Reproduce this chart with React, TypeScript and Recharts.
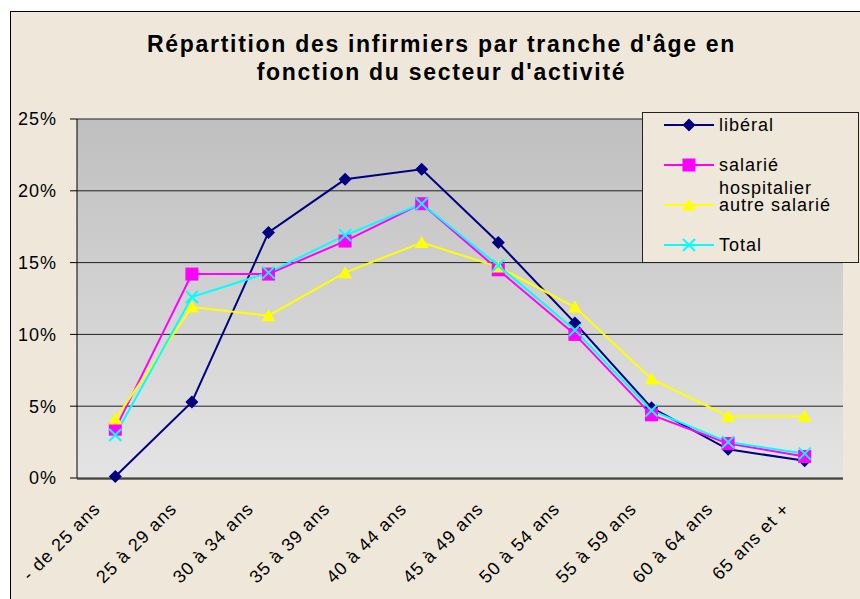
import { LineChart, Line, XAxis, YAxis, CartesianGrid, ReferenceArea } from 'recharts'

const AGES = [
  '- de 25 ans',
  '25 à 29 ans',
  '30 à 34 ans',
  '35 à 39 ans',
  '40 à 44 ans',
  '45 à 49 ans',
  '50 à 54 ans',
  '55 à 59 ans',
  '60 à 64 ans',
  '65 ans et +',
]
const LIBERAL = [0.1, 5.3, 17.1, 20.8, 21.5, 16.4, 10.8, 4.9, 2.0, 1.2]
const SALARIE_HOSP = [3.4, 14.2, 14.2, 16.5, 19.1, 14.5, 10.0, 4.4, 2.4, 1.5]
const AUTRE_SALARIE = [4.1, 11.9, 11.3, 14.3, 16.4, 14.7, 11.9, 6.9, 4.3, 4.3]
const TOTAL = [3.0, 12.6, 14.3, 16.9, 19.1, 14.8, 10.3, 4.7, 2.5, 1.7]
const Y_TICKS = [0, 5, 10, 15, 20, 25]
const EDGE_TICKS = [0, 1, 2, 3, 4, 5, 6, 7, 8, 9, 10]

const TITLE = ["Répartition des infirmiers par tranche d'âge en", "fonction du secteur d'activité"]

const FONT = "'Liberation Sans', Arial, sans-serif"
const BEIGE = '#efe8da'

const data = AGES.map((age, i) => ({
  age,
  liberal: LIBERAL[i],
  salarie: SALARIE_HOSP[i],
  autre: AUTRE_SALARIE[i],
  total: TOTAL[i],
}))

// marker shapes, Excel style
const Diamond = ({ cx, cy }: { cx: number; cy: number }) => (
  <polygon points={`${cx},${cy - 6.5} ${cx + 6.5},${cy} ${cx},${cy + 6.5} ${cx - 6.5},${cy}`} fill="#000080" />
)
const Square = ({ cx, cy }: { cx: number; cy: number }) => (
  <rect x={cx - 6.5} y={cy - 6.5} width={13} height={13} fill="#ff00ff" />
)
const Triangle = ({ cx, cy }: { cx: number; cy: number }) => (
  <polygon points={`${cx},${cy - 6.5} ${cx + 7},${cy + 5.5} ${cx - 7},${cy + 5.5}`} fill="#ffff00" />
)
const Cross = ({ cx, cy }: { cx: number; cy: number }) => (
  <g stroke="#00ffff" strokeWidth={2}>
    <line x1={cx - 6} y1={cy - 6} x2={cx + 6} y2={cy + 6} />
    <line x1={cx - 6} y1={cy + 6} x2={cx + 6} y2={cy - 6} />
  </g>
)

const SERIES = [
  { key: 'liberal', name: 'libéral', color: '#000080', Shape: Diamond },
  { key: 'salarie', name: 'salarié\nhospitalier', color: '#ff00ff', Shape: Square },
  { key: 'autre', name: 'autre salarié', color: '#ffff00', Shape: Triangle },
  { key: 'total', name: 'Total', color: '#00ffff', Shape: Cross },
]

function AgeTick({ x, y, payload }: any) {
  return (
    <g transform={`translate(${x - 14},${y + 32})`}>
      <text
        textAnchor="end"
        transform="rotate(-45)"
        fontSize={18}
        letterSpacing={1}
        fill="#000"
        fontFamily={FONT}
      >
        {payload.value}
      </text>
    </g>
  )
}

function LegendBox() {
  return (
    <div
      style={{
        position: 'absolute',
        left: 642,
        top: 112,
        width: 215,
        height: 149,
        background: BEIGE,
        border: '1px solid #222',
        fontFamily: FONT,
        fontSize: 18,
        letterSpacing: 1,
        color: '#000',
      }}
    >
      {SERIES.map((s, i) => {
        const cy = 12 + 40 * i
        return (
          <div key={s.key}>
            <svg
              width={52}
              height={16}
              style={{ position: 'absolute', left: 21, top: cy - 8, overflow: 'visible' }}
            >
              <line x1={0} y1={8} x2={50} y2={8} stroke={s.color} strokeWidth={2} />
              <s.Shape cx={25} cy={8} />
            </svg>
            <div
              style={{
                position: 'absolute',
                left: 76,
                top: cy - 11.5,
                lineHeight: '23px',
                whiteSpace: 'pre',
              }}
            >
              {s.name}
            </div>
          </div>
        )
      })}
    </div>
  )
}

export default function App() {
  return (
    <div
      style={{
        position: 'absolute',
        left: 0,
        top: 0,
        width: 860,
        height: 599,
        overflow: 'hidden',
        background: '#fff',
      }}
    >
      <div
        style={{
          position: 'absolute',
          left: 10,
          top: 11,
          width: 870,
          height: 600,
          background: BEIGE,
          border: '1px solid #000',
        }}
      />
      <div
        style={{
          position: 'absolute',
          left: 0,
          top: 30,
          width: 883,
          textAlign: 'center',
          fontFamily: FONT,
          fontWeight: 'bold',
          fontSize: 23,
          letterSpacing: 1.7,
          lineHeight: '28px',
          color: '#000',
        }}
      >
        {TITLE.map((t) => (
          <div key={t}>{t}</div>
        ))}
      </div>
      <div style={{ position: 'absolute', left: 0, top: 0 }}>
        <LineChart
          width={860}
          height={599}
          data={data}
          margin={{ top: 119, right: 17, left: 0, bottom: 119 }}
        >
          <defs>
            <linearGradient id="plotBg" x1="0" y1="0" x2="0" y2="1">
              <stop offset="0%" stopColor="#bfbfbf" />
              <stop offset="100%" stopColor="#e4e4e4" />
            </linearGradient>
          </defs>
          <CartesianGrid
            vertical={false}
            stroke="#222"
            strokeWidth={1}
            fill="url(#plotBg)"
            fillOpacity={1}
          />
          <XAxis
            xAxisId="edges"
            type="number"
            domain={[0, 10]}
            ticks={EDGE_TICKS}
            allowDataOverflow
            height={1}
            tick={false}
            tickSize={7}
            tickLine={{ stroke: '#000' }}
            axisLine={{ stroke: '#000' }}
          />
          <XAxis
            dataKey="age"
            height={1}
            interval={0}
            padding={{ left: 38.3, right: 38.3 }}
            tickLine={false}
            axisLine={false}
            tickSize={0}
            tickMargin={0}
            tick={<AgeTick />}
          />
          <YAxis
            width={77}
            domain={[0, 25]}
            ticks={Y_TICKS}
            tickFormatter={(v) => `${v}%`}
            tickSize={7}
            tickMargin={13}
            tickLine={{ stroke: '#000' }}
            axisLine={{ stroke: '#000' }}
            tick={{ fontSize: 18, fill: '#000', fontFamily: FONT, letterSpacing: 1 }}
          />
          <ReferenceArea
            xAxisId="edges"
            x1={0}
            x2={10}
            y1={0}
            y2={25}
            fill="none"
            stroke="#808080"
            strokeWidth={1}
          />
          {SERIES.map((s) => (
            <Line
              key={s.key}
              dataKey={s.key}
              name={s.name}
              type="linear"
              stroke={s.color}
              strokeWidth={2}
              isAnimationActive={false}
              activeDot={false}
              dot={(p: any) => <s.Shape key={`${s.key}-${p.index}`} cx={p.cx} cy={p.cy} />}
            />
          ))}
        </LineChart>
      </div>
      <LegendBox />
    </div>
  )
}
